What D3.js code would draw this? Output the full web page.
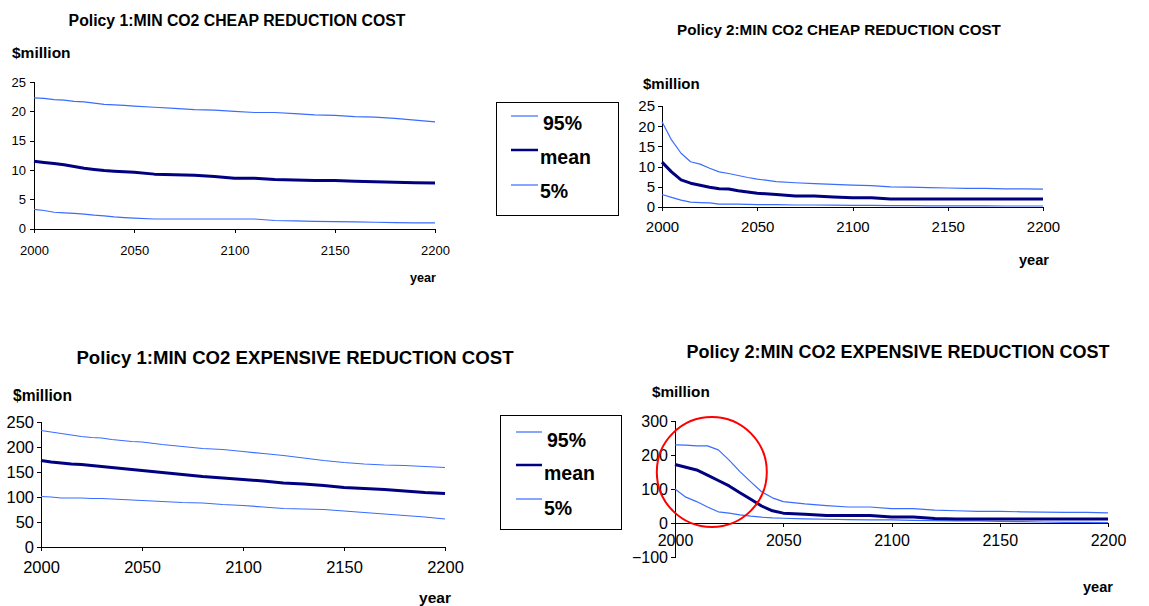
<!DOCTYPE html>
<html><head><meta charset="utf-8">
<script src="https://cdn.jsdelivr.net/npm/d3@7"></script>
<style>
html,body{margin:0;padding:0;background:#fff;}
svg{display:block;font-family:"Liberation Sans",Arial,sans-serif;}
.axis path,.axis line{stroke:#000;stroke-width:1;shape-rendering:crispEdges;}
.axis text{fill:#000;font-family:"Liberation Sans",Arial,sans-serif;}
</style></head>
<body>
<svg id="c" width="1149" height="606"></svg>
<script>
// ---------- data ----------
const years = [2000,2005,2010,2015,2020,2025,2030,2035,2040,2045,2050,2060,2070,2080,2090,2100,2110,2120,2130,2140,2150,2160,2170,2180,2190,2200];
const seriesNames = ["95%","mean","5%"];
const xTickValues = [2000,2050,2100,2150,2200];

// Policy 1: cheap reduction cost
const p1Cheap95   = [22.3,22.2,22.0,21.9,21.7,21.6,21.4,21.2,21.1,21.0,20.9,20.7,20.5,20.3,20.2,20.0,19.8,19.8,19.6,19.4,19.3,19.1,19.0,18.8,18.5,18.2];
const p1CheapMean = [11.5,11.3,11.1,10.9,10.6,10.3,10.1,9.9,9.8,9.7,9.6,9.3,9.2,9.1,8.9,8.6,8.6,8.4,8.3,8.2,8.2,8.1,8.0,7.9,7.85,7.8];
const p1Cheap5    = [3.3,3.1,2.8,2.7,2.6,2.5,2.3,2.2,2.0,1.9,1.8,1.65,1.65,1.65,1.65,1.65,1.65,1.4,1.35,1.25,1.2,1.15,1.1,1.05,1.0,1.0];
const p1CheapYTicks = [0,5,10,15,20,25];

// Policy 2: cheap reduction cost
const p2Cheap95   = [21.1,16.6,13.3,11.2,10.6,9.6,8.7,8.3,7.8,7.3,6.9,6.3,6.0,5.8,5.6,5.4,5.3,5.0,4.9,4.8,4.7,4.6,4.6,4.5,4.5,4.4];
const p2CheapMean = [11.1,8.7,6.7,5.9,5.4,4.9,4.5,4.45,4.0,3.7,3.4,3.1,2.7,2.7,2.5,2.3,2.3,2.0,2.0,2.0,2.0,2.0,2.0,2.0,2.0,2.0];
const p2Cheap5    = [3.1,2.4,1.7,1.2,1.1,1.0,0.7,0.7,0.7,0.65,0.6,0.6,0.5,0.5,0.45,0.4,0.4,0.35,0.35,0.3,0.3,0.3,0.3,0.25,0.25,0.25];
const p2CheapYTicks = [0,5,10,15,20,25];

// Policy 1: expensive reduction cost
const p1Exp95   = [233,230,227,224,221,219,218,215,213,211,210,205,201,197,195,191,187,183,178,173,169,166,164,163,161,159];
const p1ExpMean = [173,170,168,166,165,163,161,159,157,155,153,149,145,141,138,135,132,128,126,123,119,117,115,112,109,107];
const p1Exp5    = [101,100,98,98,98,97,97,96,95,94,93,91,89,88,85,83,80,77,76,75,72,69,66,63,60,56];
const p1ExpYTicks = [0,50,100,150,200,250];

// Policy 2: expensive reduction cost
const p2Exp95   = [230,229,227,227,215,185,151,121,92,74,63,56,51,47,47,42,42,38,36,34,34,33,32,31,31,30];
const p2ExpMean = [172,164,156,141,125,109,89,70,50,36,29,26,22,22,22,18,18,13,12,12,12,12,12,12,12,12];
const p2Exp5    = [100,76,63,47,33,29,24,20,17,15,14,12,11,10,9,9,8,7,6,6,5,4,3,2,2,1];
const p2ExpYTicks = [-100,0,100,200,300];

const titles = [
  "Policy 1:MIN CO2 CHEAP REDUCTION COST",
  "Policy 2:MIN CO2 CHEAP REDUCTION COST",
  "Policy 1:MIN CO2 EXPENSIVE REDUCTION COST",
  "Policy 2:MIN CO2 EXPENSIVE REDUCTION COST"
];
const yLabel = "$million";
const xLabel = "year";

// ---------- drawing ----------
const svg = d3.select("#c");
const colLight = "#3a6cff", colDark = "#000080";

function panel(o){
  const g = svg.append("g");
  const x = d3.scaleLinear().domain([2000,2200]).range([o.x0,o.x1]);
  const y = d3.scaleLinear().domain(o.yDom).range([o.yB,o.yT]);
  g.append("text").attr("x",o.tx).attr("y",o.ty).attr("dy","0.35em").attr("text-anchor","middle")
    .attr("font-weight","bold").attr("font-size",o.tfs).text(o.title);
  g.append("text").attr("x",o.lx).attr("y",o.ly).attr("dy","0.35em")
    .attr("font-weight","bold").attr("font-size",o.lfs).text(yLabel);
  g.append("text").attr("x",o.yrx).attr("y",o.yry).attr("dy","0.35em").attr("text-anchor","middle")
    .attr("font-weight","bold").attr("font-size",o.yrfs).text(xLabel);
  const ya = g.append("g").attr("class","axis").attr("transform",`translate(${o.x0},0)`)
    .call(d3.axisLeft(y).tickValues(o.yTicks).tickSize(4).tickPadding(o.yPad).tickFormat(d3.format("d")));
  ya.selectAll("text").attr("font-size",o.fs);
  const zeroY = y(0);
  const xa = g.append("g").attr("class","axis").attr("transform",`translate(0,${zeroY})`)
    .call(d3.axisBottom(x).tickValues(xTickValues).tickSize(4).tickPadding(o.xPad).tickFormat(d3.format("d")));
  xa.selectAll("text").attr("font-size",o.fs);
  const line = d3.line().x((d,i)=>x(years[i])).y(d=>y(d));
  const sets = [[o.d95,colLight,1.2],[o.d5,colLight,1.2],[o.dMean,colDark,3]];
  sets.forEach(([d,c,w])=>{
    g.append("path").datum(d).attr("d",line).attr("fill","none").attr("stroke",c)
      .attr("stroke-width",w).attr("stroke-linejoin","round");
  });
  return {g,x,y};
}

function legend(o){
  const g = svg.append("g");
  g.append("rect").attr("x",o.x).attr("y",o.y).attr("width",o.w).attr("height",o.h)
    .attr("fill","#fff").attr("stroke","#000").attr("stroke-width",1).attr("shape-rendering","crispEdges");
  const cols = [colLight,colDark,colLight];
  const wid = [1.2,2.5,1.2];
  seriesNames.forEach((n,i)=>{
    g.append("line").attr("x1",o.lx1).attr("x2",o.lx2).attr("y1",o.ly[i]).attr("y2",o.ly[i])
      .attr("stroke",cols[i]).attr("stroke-width",wid[i]);
    g.append("text").attr("x",o.tx[i]).attr("y",o.ty[i]).attr("dy","0.35em")
      .attr("font-weight","bold").attr("font-size",o.fs).text(n);
  });
}

panel({title:titles[0],tx:237,ty:20,tfs:15.8,lx:12,ly:53,lfs:15.5,yrx:423,yry:278,yrfs:12.6,
  x0:34,x1:435,yB:228.7,yT:82,yDom:[0,25],yTicks:p1CheapYTicks,fs:13,yPad:4,xPad:13,
  d95:p1Cheap95,dMean:p1CheapMean,d5:p1Cheap5});
panel({title:titles[1],tx:839,ty:30,tfs:15.2,lx:643,ly:84,lfs:15,yrx:1034,yry:260,yrfs:14.6,
  x0:662,x1:1043,yB:207,yT:106,yDom:[0,25],yTicks:p2CheapYTicks,fs:15,yPad:3,xPad:10,
  d95:p2Cheap95,dMean:p2CheapMean,d5:p2Cheap5});
panel({title:titles[2],tx:295,ty:357,tfs:18.6,lx:13,ly:396,lfs:15.6,yrx:435,yry:598,yrfs:15.5,
  x0:41,x1:445,yB:547,yT:422,yDom:[0,250],yTicks:p1ExpYTicks,fs:16.5,yPad:3,xPad:10,
  d95:p1Exp95,dMean:p1ExpMean,d5:p1Exp5});
const p4 = panel({title:titles[3],tx:898,ty:352,tfs:18,lx:652,ly:392,lfs:15.3,yrx:1098,yry:587,yrfs:14.6,
  x0:675,x1:1108,yB:557,yT:421,yDom:[-100,300],yTicks:p2ExpYTicks,fs:16,yPad:3,xPad:8,
  d95:p2Exp95,dMean:p2ExpMean,d5:p2Exp5});
// highlight circle around the early years
p4.g.append("circle").attr("cx",p4.x(2017)).attr("cy",p4.y(150)).attr("r",55)
  .attr("fill","none").attr("stroke","#ff0000").attr("stroke-width",2);

legend({x:496,y:102,w:122,h:113,lx1:511,lx2:538,ly:[116,150,185],tx:[543,540,540],ty:[123,157,191],fs:19.5});
legend({x:500,y:415,w:121,h:114,lx1:516,lx2:542,ly:[432,465,499],tx:[547,544,544],ty:[440,473,508],fs:19.5});
</script>
</body></html>
